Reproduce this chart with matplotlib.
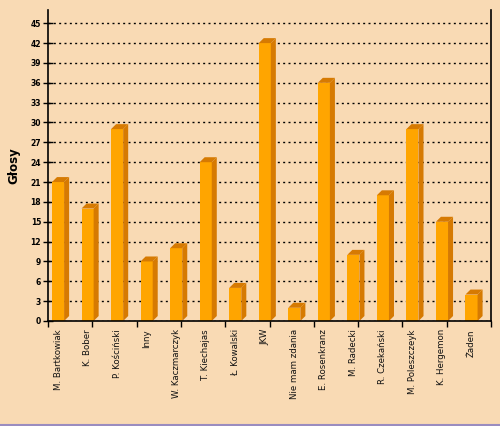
import numpy as np
import matplotlib
matplotlib.use("Agg")
import matplotlib.pyplot as plt
from matplotlib.patches import Polygon
from matplotlib.lines import Line2D

# data
names = ["M. Bartkowiak", "K. Bober", "P. Kościński", "Inny", "W. Kaczmarczyk",
         "T. Kiechajas", "Ł. Kowalski", "JKW", "Nie mam zdania", "E. Rosenkranz",
         "M. Radecki", "R. Czekański", "M. Poleszczeyk", "K. Hergemon", "Żaden"]
votes = [21, 17, 29, 9, 11, 24, 5, 42, 2, 36, 10, 19, 29, 15, 4]
yticks = np.arange(0, 46, 3)

# look
bg = "#F9DAB4"
front_col = "#FFA500"
side_col = "#D67A02"
plt.rcParams['lines.scale_dashes'] = False

fig = plt.figure(figsize=(5, 4.26), dpi=100, facecolor=bg)
ax = fig.add_axes([0.096, 0.2465, 0.886, 0.73])
ax.set_facecolor(bg)

x = np.arange(len(names))
w = 0.41      # front face width
off = -0.365  # left edge relative to category centre
dx, dy = 0.17, 0.75  # fake depth

ax.bar(x + off, votes, width=w, align="edge", color=front_col, zorder=3, linewidth=0)
for xi, v in zip(x, votes):
    x0 = xi + off
    x1 = x0 + w
    side = Polygon([(x1, 0), (x1 + dx, dy), (x1 + dx, v + dy), (x1, v)],
                   closed=True, facecolor=side_col, edgecolor="none", zorder=3)
    top = Polygon([(x0, v), (x1, v), (x1 + dx, v + dy), (x0 + dx, v + dy)],
                  closed=True, facecolor=side_col, edgecolor="none", zorder=3)
    ax.add_patch(side)
    ax.add_patch(top)

ax.set_xlim(-0.5, len(names) - 0.5)
ax.set_ylim(0, 47)
ax.set_yticks(yticks)
ax.set_yticklabels([str(t) for t in yticks], fontsize=5.5, fontweight="bold")
ax.set_xticks(np.linspace(-0.5, len(names) - 0.5, 11))
ax.set_xticklabels([])
ax.tick_params(axis="x", direction="out", length=4, width=1, color="black")
ax.tick_params(axis="y", direction="inout", length=7, width=1, color="black", pad=1.5)

ax.yaxis.grid(True, color="black", linewidth=1, linestyle=(0, (1.44, 2.4)), zorder=1)
ax.set_axisbelow(True)

for s in ["left", "right", "bottom"]:
    ax.spines[s].set_color("black")
    ax.spines[s].set_linewidth(1.2)
    ax.spines[s].set_zorder(4)
ax.spines["top"].set_visible(False)

for xi, name in zip(x, names):
    ax.text(xi + off + w / 2, -0.026, name, transform=ax.get_xaxis_transform(),
            rotation=90, ha="center", va="top", fontsize=6.2, color="#111111")

ax.text(-0.077, 0.5, "Głosy", transform=ax.transAxes, rotation=90,
        ha="center", va="center", fontsize=8.5, fontweight="bold")

fig.add_artist(Line2D([0, 1], [1.5 / 426, 1.5 / 426], transform=fig.transFigure,
                      color="#9A8CC0", linewidth=1.5))

plt.savefig("out.png", dpi=100, facecolor=bg)
